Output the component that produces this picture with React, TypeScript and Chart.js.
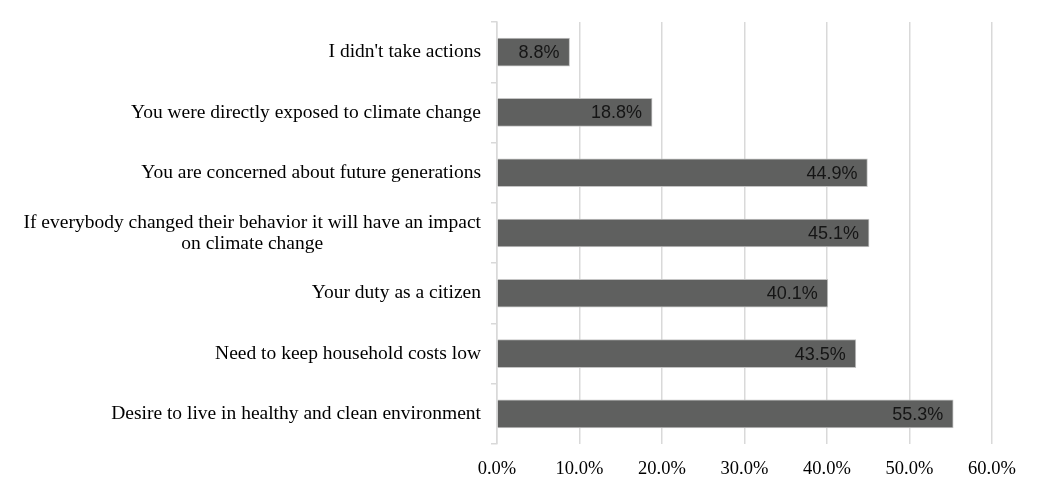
import React, { useEffect, useRef } from "react";
import { Chart, registerables } from "chart.js";

Chart.register(...registerables);

const categories: (string | string[])[] = [
  "I didn't take actions",
  "You were directly exposed to climate change",
  "You are concerned about future generations",
  ["If everybody changed their behavior it will have an impact", "on climate change"],
  "Your duty as a citizen",
  "Need to keep household costs low",
  "Desire to live in healthy and clean environment",
];
const values: number[] = [8.8, 18.8, 44.9, 45.1, 40.1, 43.5, 55.3];
const xTicks: number[] = [0, 10, 20, 30, 40, 50, 60];

const SERIF = "'Liberation Serif', serif";
const SANS = "'Liberation Sans', sans-serif";

const labelPlugin = {
  id: "barLabels",
  afterDatasetsDraw(chart: any) {
    const ctx = chart.ctx;
    const meta = chart.getDatasetMeta(0);
    ctx.save();
    ctx.font = `18px ${SANS}`;
    ctx.fillStyle = "#151515";
    ctx.textAlign = "right";
    ctx.textBaseline = "middle";
    meta.data.forEach((el: any, i: number) => {
      ctx.fillText(values[i].toFixed(1) + "%", el.x - 10, el.y + 1);
    });
    ctx.restore();
  },
};

const catLabelPlugin = {
  id: "catLabels",
  afterDraw(chart: any) {
    const ctx = chart.ctx;
    const yScale = chart.scales.y;
    const right = yScale.right - 16;
    const lineH = 21;
    ctx.save();
    ctx.font = `19.5px ${SERIF}`;
    ctx.fillStyle = "#000";
    ctx.textBaseline = "middle";
    categories.forEach((c, i) => {
      const y = yScale.getPixelForValue(i);
      const lines = Array.isArray(c) ? c : [c];
      const widths = lines.map((l) => ctx.measureText(l).width);
      const maxW = Math.max(...widths);
      const cx = right - maxW / 2;
      const y0 = y - ((lines.length - 1) * lineH) / 2;
      lines.forEach((l, k) => {
        if (lines.length === 1) {
          ctx.textAlign = "right";
          ctx.fillText(l, right, y0);
        } else {
          ctx.textAlign = "center";
          ctx.fillText(l, cx, y0 + k * lineH);
        }
      });
    });
    ctx.restore();
  },
};

export default function App() {
  const ref = useRef<HTMLCanvasElement | null>(null);
  useEffect(() => {
    document.body.style.margin = "0";
    if (!ref.current) return;
    const chart = new Chart(ref.current, {
      type: "bar",
      data: {
        labels: categories,
        datasets: [
          {
            data: values,
            backgroundColor: "#5f605f",
            borderColor: "#c4c4c4",
            borderWidth: 1,
            barThickness: 28,
          },
        ],
      },
      options: {
        indexAxis: "y",
        animation: false,
        responsive: false,
        devicePixelRatio: 1,
        layout: { padding: { top: 22, right: 57, left: 0, bottom: 0 } },
        plugins: { legend: { display: false }, tooltip: { enabled: false } },
        scales: {
          x: {
            min: 0,
            max: 60,
            afterBuildTicks: (scale: any) => {
              scale.ticks = xTicks.map((v) => ({ value: v }));
            },
            afterFit: (scale: any) => {
              scale.height = 49;
            },
            grid: { color: "#d9d9d9", drawTicks: false, lineWidth: 1.5 },
            border: { display: false },
            ticks: {
              padding: 14,
              color: "#000",
              font: { family: SERIF, size: 18.5 },
              callback: (v: any) => Number(v).toFixed(1) + "%",
            },
          },
          y: {
            afterFit: (scale: any) => {
              scale.width = 497;
            },
            grid: { color: "#d9d9d9", drawOnChartArea: false, tickLength: 6, lineWidth: 1.5 },
            border: { color: "#d9d9d9", width: 1.5 },
            ticks: { display: false },
          },
        },
      },
      plugins: [labelPlugin, catLabelPlugin],
    });
    return () => chart.destroy();
  }, []);
  return (
    <div style={{ width: 1049, height: 493, background: "#fff" }}>
      <canvas ref={ref} width={1049} height={493} style={{ display: "block" }} />
    </div>
  );
}
